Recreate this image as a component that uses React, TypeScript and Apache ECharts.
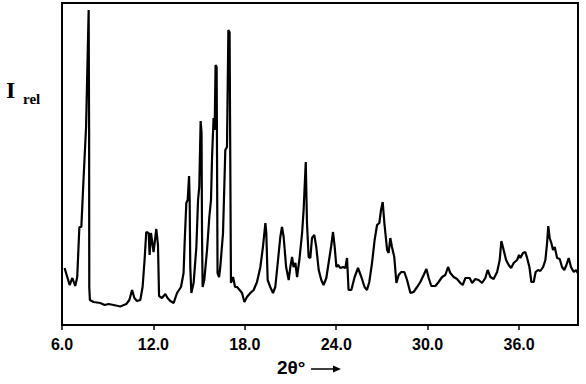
import React, { useEffect, useRef } from "react";
import * as echarts from "echarts";

const twoTheta: number[] = [
  6.17, 6.5, 6.68, 6.87, 7.0, 7.14, 7.27, 7.42, 7.58, 7.75, 7.78, 7.79, 7.83, 8.07, 8.51, 8.8, 9.06, 9.39, 9.83,
  10.22, 10.42, 10.6, 10.75, 10.92, 11.14, 11.29, 11.42, 11.53, 11.69, 11.75, 11.84, 12.01, 12.19, 12.3, 12.37,
  12.56, 12.78, 12.93, 13.11, 13.33, 13.55, 13.81, 13.98, 14.05, 14.16, 14.25, 14.34, 14.38, 14.42, 14.49, 14.64,
  14.82, 14.93, 15.01, 15.1, 15.16, 15.19, 15.23, 15.34, 15.52, 15.67, 15.78, 15.85, 15.95, 16.02, 16.08, 16.15,
  16.21, 16.31, 16.39, 16.57, 16.72, 16.83, 16.92, 17.0, 17.09, 17.23, 17.36, 17.49, 17.66, 17.82, 17.97, 18.14,
  18.25, 18.36, 18.58, 18.8, 19.02, 19.19, 19.35, 19.41, 19.5, 19.67, 19.85, 20.0, 20.18, 20.33, 20.44, 20.55,
  20.71, 20.88, 20.99, 21.1, 21.2, 21.32, 21.43, 21.58, 21.76, 21.86, 22.0, 22.08, 22.19, 22.3, 22.41, 22.56,
  22.69, 22.85, 23.02, 23.17, 23.35, 23.5, 23.66, 23.79, 23.9, 24.01, 24.12, 24.27, 24.45, 24.6, 24.71, 24.81,
  24.99, 25.21, 25.43, 25.65, 25.86, 26.02, 26.17, 26.35, 26.52, 26.68, 26.83, 26.94, 27.05, 27.16, 27.34, 27.44,
  27.55, 27.66, 27.81, 27.95, 28.1, 28.27, 28.47, 28.65, 28.87, 29.08, 29.31, 29.52, 29.74, 29.92, 30.07, 30.24,
  30.51, 30.72, 30.95, 31.16, 31.34, 31.49, 31.71, 31.93, 32.15, 32.3, 32.48, 32.76, 32.92, 33.13, 33.35, 33.57,
  33.79, 33.94, 34.12, 34.33, 34.56, 34.73, 34.84, 34.99, 35.15, 35.32, 35.48, 35.65, 35.87, 36.0, 36.09, 36.26,
  36.41, 36.53, 36.68, 36.81, 36.96, 37.09, 37.25, 37.4, 37.58, 37.73, 37.84, 37.92, 38.01, 38.12, 38.23, 38.34,
  38.5, 38.67, 38.82, 38.97, 39.11, 39.26, 39.41, 39.59, 39.74, 39.85,
];

const intensity: number[] = [
  57, 40, 47, 39, 48, 98, 98, 148, 198, 315, 192, 38, 25, 23, 22, 20, 21, 20, 18.5,
  21, 25, 35, 27, 24, 25, 38, 65, 93, 92, 70, 92, 73, 96, 80, 29,
  27, 31, 27, 24, 22, 32, 38, 52, 82, 122, 125, 149, 125, 58, 32, 42,
  78, 125, 138, 204, 192, 92, 38, 45, 75, 108, 125, 168, 207, 195, 260, 258,
  52, 48, 58, 92, 175, 178, 295, 293, 42, 48, 38, 38, 35, 32, 23, 28,
  30, 32, 35, 43, 58, 78, 102, 92, 45, 38, 32, 38, 65, 88, 98, 88,
  58, 45, 58, 68, 58, 62, 48, 65, 92, 115, 163, 102, 68, 67, 87, 90,
  78, 55, 45, 40, 47, 62, 78, 93, 78, 58, 60, 57, 58, 57, 67, 35,
  35, 48, 57, 48, 38, 35, 43, 62, 85, 100, 102, 115, 123, 102, 75, 72,
  87, 78, 68, 42, 50, 53, 53, 45, 32, 33, 38, 43, 50, 56, 47, 39,
  39, 43, 48, 50, 58, 52, 48, 46, 42, 40, 47, 47, 42, 46, 45, 42,
  47, 55, 48, 46, 53, 65, 84, 75, 65, 60, 57, 62, 65, 70, 67, 72,
  73, 67, 58, 43, 43, 53, 55, 54, 58, 65, 82, 99, 87, 82, 75, 78,
  67, 66, 58, 55, 60, 67, 58, 53, 55, 52,
];

const tickValues: number[] = [6, 12, 18, 24, 30, 36];

export default function App() {
  const ref = useRef<HTMLDivElement>(null);
  useEffect(() => {
    if (!ref.current) return;
    const chart = echarts.init(ref.current, undefined, { renderer: "svg" });
    const data = twoTheta.map((t, i) => [t, intensity[i]]);
    chart.setOption({
      animation: false,
      backgroundColor: "#ffffff",
      grid: {
        left: 62,
        top: 3,
        right: 8,
        bottom: 59,
        show: true,
        borderColor: "#000",
        borderWidth: 2,
        backgroundColor: "transparent",
      },
      xAxis: {
        type: "value",
        min: 6,
        max: 39.87,
        interval: 6,
        splitLine: { show: false },
        axisLine: { show: true, onZero: false, lineStyle: { color: "#000", width: 2 } },
        axisTick: { show: true, inside: false, length: 5, lineStyle: { color: "#000", width: 1.5 } },
        axisLabel: {
          margin: 11,
          color: "#000",
          fontFamily: "Liberation Sans",
          fontWeight: "bold",
          fontSize: 16,
          showMaxLabel: false,
          formatter: (v: number) => (tickValues.includes(Math.round(v * 1000) / 1000) ? v.toFixed(1) : ""),
        },
      },
      yAxis: {
        type: "value",
        min: 0,
        max: 322,
        splitLine: { show: false },
        axisLine: { show: true, lineStyle: { color: "#000", width: 2 } },
        axisTick: { show: false },
        axisLabel: { show: false },
      },
      series: [
        {
          type: "line",
          data,
          showSymbol: false,
          symbol: "none",
          lineStyle: { color: "#000", width: 2.2 },
          silent: true,
        },
      ],
      graphic: [
        {
          type: "text",
          left: 6,
          top: 78,
          style: {
            text: "I",
            font: "bold 24px 'Liberation Serif'",
            fill: "#000",
          },
        },
        {
          type: "text",
          left: 23,
          top: 91,
          style: {
            text: "rel",
            font: "bold 15px 'Liberation Serif'",
            fill: "#000",
          },
        },
        {
          type: "text",
          left: 277,
          top: 358,
          style: {
            text: "2θ°",
            font: "bold 19px 'Liberation Sans'",
            fill: "#000",
          },
        },
        {
          type: "line",
          shape: { x1: 311, y1: 369, x2: 335, y2: 369 },
          style: { stroke: "#000", lineWidth: 1.5 },
        },
        {
          type: "polygon",
          shape: { points: [[333, 365.5], [341, 369], [333, 372.5]] },
          style: { fill: "#000" },
        },
      ],
    });
    return () => chart.dispose();
  }, []);
  return <div ref={ref} style={{ width: 586, height: 384, position: "absolute", left: 0, top: 0 }} />;
}
